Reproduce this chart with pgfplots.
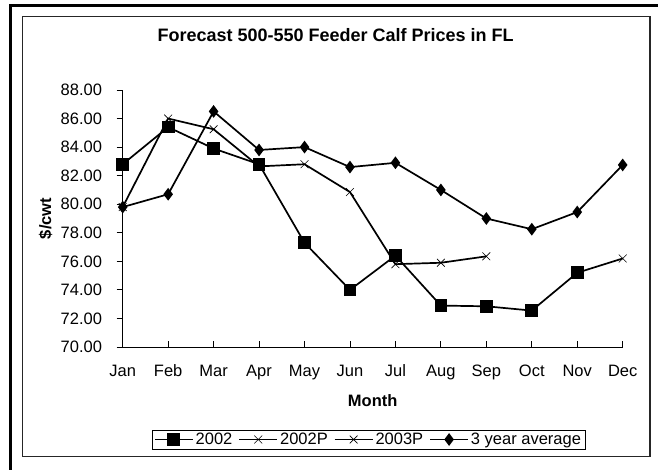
\documentclass[border=0pt]{standalone}
\usepackage{pgfplots}
\pgfplotsset{compat=1.18}
\usepackage{fontspec}
\setmainfont{Liberation Sans}
\begin{document}
\begin{tikzpicture}
\useasboundingbox[fill=white] (0pt,0pt) rectangle (658pt,470pt);
% outer and inner frames
\draw[line width=3pt] (10.8pt,0pt) -- (10.8pt,464.2pt) -- (658pt,464.2pt);
\draw[line width=1.3pt, black!85] (22.5pt,13.3pt) rectangle (650pt,453.5pt);
\begin{axis}[
  at={(122.7pt,123pt)}, anchor=south west,
  scale only axis, width=500pt, height=257pt,
  xmin=0, xmax=11, ymin=70, ymax=88,
  axis x line*=bottom, axis y line*=left,
  axis line style={line width=0.9pt},
  xtick={0,...,11},
  xticklabels={Jan,Feb,Mar,Apr,May,Jun,Jul,Aug,Sep,Oct,Nov,Dec},
  ytick={70,72,...,88},
  yticklabel={\pgfmathprintnumber[fixed,fixed zerofill,precision=2]{\tick}},
  /pgf/number format/assume math mode=true,
  tick style={black, line width=0.9pt},
  major tick length=6pt,
  xtick align=inside, ytick align=outside,
  xticklabel style={anchor=base, inner sep=0pt, yshift=-29.7pt, font=\fontsize{16.5}{18}\selectfont},
  yticklabel style={anchor=east, inner sep=0pt, xshift=-14.5pt, font=\fontsize{16.5}{18}\selectfont},
  title={Forecast 500-550 Feeder Calf Prices in FL},
  title style={at={(axis description cs:0.4258,1)}, anchor=base, inner sep=0pt, yshift=42.3pt, font=\bfseries\fontsize{18}{20}\selectfont},
  xlabel={Month},
  xlabel style={at={(axis description cs:0.5,0)}, anchor=base, inner sep=0pt, yshift=-60pt, font=\bfseries\fontsize{16.5}{18}\selectfont},
  ylabel={\$/cwt},
  ylabel style={at={(axis description cs:0,0.5)}, anchor=center, inner sep=0pt, yshift=77pt, font=\bfseries\fontsize{16.5}{18}\selectfont},
  legend columns=4,
  legend style={at={(axis description cs:0.4916,0)}, anchor=center, yshift=-92.5pt,
    draw=black, line width=0.9pt, inner xsep=2pt, inner ysep=1pt,
    font=\fontsize{16.5}{18}\selectfont,
    /tikz/every even column/.append style={column sep=4pt}},
  legend cell align=left,
  legend image code/.code={\draw[mark repeat=2,mark phase=2,#1] plot coordinates {(0pt,0pt) (19pt,0pt) (38pt,0pt)};},
  every axis plot/.append style={line width=1.7pt, black},
]
\addplot[mark=square*, mark size=5.5pt, mark options={solid}] coordinates {
 (0,82.8) (1,85.4) (2,83.9) (3,82.8) (4,77.3) (5,74.0) (6,76.4) (7,72.9) (8,72.85) (9,72.55) (10,75.2)};
\addlegendentry{2002}
\addplot[mark=x, mark size=5.5pt, mark options={line width=0.6pt}] coordinates {
 (0,79.8) (1,86.0) (2,85.25) (3,82.65) (4,82.8) (5,80.85) (6,75.8) (7,75.9) (8,76.35)};
\addlegendentry{2002P}
\addplot[mark=x, mark size=5.5pt, mark options={line width=0.6pt}] coordinates {
 (10,75.2) (11,76.2)};
\addlegendentry{2003P}
\addplot[mark=diamond*, mark size=5pt] coordinates {
 (0,79.8) (1,80.7) (2,86.5) (3,83.8) (4,84.0) (5,82.6) (6,82.9) (7,81.0) (8,79.0) (9,78.25) (10,79.45) (11,82.75)};
\addlegendentry{3 year average}
\end{axis}
\end{tikzpicture}
\end{document}
